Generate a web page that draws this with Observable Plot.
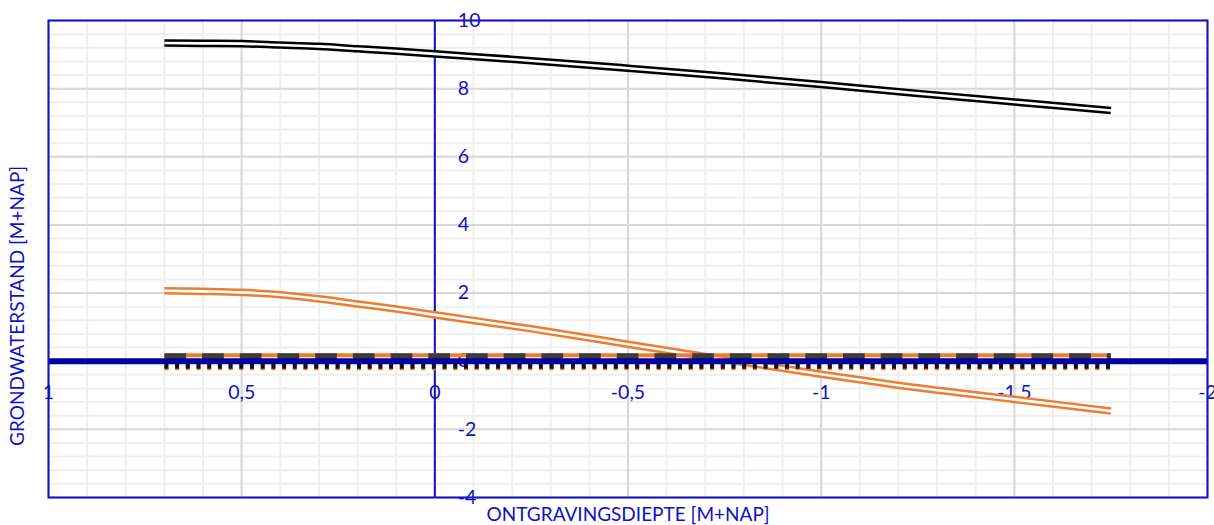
<!DOCTYPE html>
<html>
<head>
<meta charset="utf-8">
<script src="https://cdn.jsdelivr.net/npm/d3@7"></script>
<script src="https://cdn.jsdelivr.net/npm/@observablehq/plot@0.6"></script>
<style>
  html, body { margin: 0; padding: 0; background: #fff; overflow: hidden; }
  #chart { width: 1214px; height: 525px; }
</style>
</head>
<body>
<div id="chart"></div>
<script>
// Ontgravingsdiepte (m+NAP) on the x axis, reversed: 1 on the left, -2 on the right
const diepte = [0.7, 0.6, 0.5, 0.4, 0.3, 0.2, 0.1, 0, -0.25, -0.5, -0.75, -1, -1.25, -1.5, -1.75];
// Grondwaterstand (m+NAP) for the upper (black) and lower (orange) curve
const grondwaterZwart = [9.34, 9.33, 9.32, 9.28, 9.24, 9.17, 9.10, 9.02, 8.82, 8.60, 8.37, 8.12, 7.86, 7.61, 7.36];
const grondwaterOranje = [2.07, 2.05, 2.02, 1.95, 1.83, 1.68, 1.53, 1.36, 0.95, 0.50, 0.05, -0.38, -0.78, -1.12, -1.46];
// Reference level at 0 m+NAP over the same depth range
const referentieDiepte = [0.7, -1.75];
const referentieNiveau = [0, 0];

const xTicks = [1, 0.5, 0, -0.5, -1, -1.5, -2];
const yTicks = [-4, -2, 0, 2, 4, 6, 8, 10];
const xTitel = "ONTGRAVINGSDIEPTE [M+NAP]";
const yTitel = "GRONDWATERSTAND [M+NAP]";

const zwart = diepte.map((x, i) => ({x, y: grondwaterZwart[i]}));
const oranje = diepte.map((x, i) => ({x, y: grondwaterOranje[i]}));
const referentie = referentieDiepte.map((x, i) => ({x, y: referentieNiveau[i]}));

const blauw = "#1010C8";
const donkerBlauw = "#0000A0";
const oranjeKleur = "#ED7D31";
const komma = d => String(d).replace(".", ",");

// Gridlines: minor every 0.1 (x) and 0.4 (y), major every 0.5 (x) and 2 (y)
const xMinor = d3.range(-20, 11).map(i => i / 10);
const yMinor = d3.range(-10, 26).map(i => i * 0.4);

const doubleLine = (data, color) => [
  Plot.line(data, {x: "x", y: "y", stroke: color, strokeWidth: 7.6, curve: "monotone-x", strokeLinecap: "butt"}),
  Plot.line(data, {x: "x", y: "y", stroke: "white", strokeWidth: 2.6, curve: "monotone-x", strokeLinecap: "butt"})
];

const chart = Plot.plot({
  width: 1214,
  height: 525,
  marginLeft: 48,
  marginRight: 7,
  marginTop: 20,
  marginBottom: 28,
  x: {domain: [1, -2], axis: null},
  y: {domain: [-4, 10], axis: null},
  style: {fontFamily: "Lato, 'Open Sans', sans-serif", background: "white", overflow: "visible"},
  marks: [
    Plot.ruleX(xMinor, {stroke: "#EFEFEF", strokeWidth: 2}),
    Plot.ruleY(yMinor, {stroke: "#EFEFEF", strokeWidth: 2}),
    Plot.ruleX(xTicks, {stroke: "#D9D9D9", strokeWidth: 2}),
    Plot.ruleY(yTicks, {stroke: "#D9D9D9", strokeWidth: 2}),
    Plot.ruleX([0], {stroke: blauw, strokeWidth: 2}),
    Plot.text(yTicks, {x: () => 0, y: d => d, text: d => komma(d), dx: 23, textAnchor: "start", fill: blauw, fontSize: 19.5}),
    Plot.text(xTicks, {x: d => d, y: () => 0, text: d => komma(d), dy: 32, fill: blauw, fontSize: 19.5}),
    ...doubleLine(zwart, "black"),
    ...doubleLine(oranje, oranjeKleur),
    // stacked styles of the 0 m+NAP reference level
    Plot.line(referentie, {x: "x", y: "y", stroke: oranjeKleur, strokeWidth: 4, dy: -6, strokeLinecap: "butt"}),
    Plot.line(referentie, {x: "x", y: "y", stroke: "#3C3C3C", strokeWidth: 8, dy: -4, strokeDasharray: "21.7,16", strokeLinecap: "butt"}),
    Plot.line(referentie, {x: "x", y: "y", stroke: oranjeKleur, strokeWidth: 6, dy: 6, strokeDasharray: "4,6.7", strokeLinecap: "butt"}),
    Plot.line(referentie, {x: "x", y: "y", stroke: "#111", strokeWidth: 6, dy: 4.5, strokeDasharray: "4,6.7", strokeLinecap: "butt"}),
    Plot.ruleY([0], {stroke: donkerBlauw, strokeWidth: 6}),
    Plot.frame({stroke: blauw, strokeWidth: 2}),
    Plot.text([xTitel], {frameAnchor: "bottom", dy: 17, fill: blauw, fontSize: 19, textAnchor: "middle", lineAnchor: "middle"}),
    Plot.text([yTitel], {frameAnchor: "left", dx: -30.5, dy: 47, rotate: -90, fill: blauw, fontSize: 19, textAnchor: "middle", lineAnchor: "middle"})
  ]
});
document.getElementById("chart").append(chart);
</script>
</body>
</html>
